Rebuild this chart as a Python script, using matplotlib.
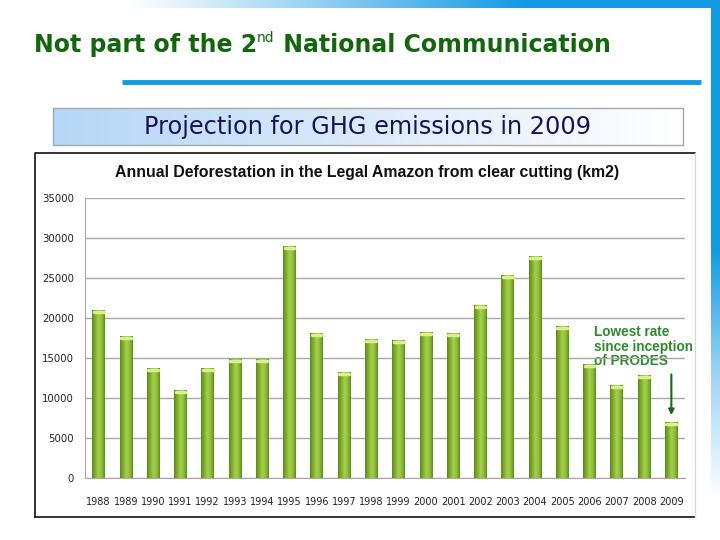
import numpy as np
import matplotlib
matplotlib.use("Agg")
import matplotlib.pyplot as plt
from matplotlib.patches import Rectangle

years = [str(y) for y in range(1988, 2010)]
deforestation = [21050, 17770, 13730, 11030, 13786, 14896, 14896, 29059,
                 18161, 13227, 17383, 17259, 18226, 18165, 21651, 25396,
                 27772, 19014, 14286, 11651, 12911, 7008]
y_ticks = [0, 5000, 10000, 15000, 20000, 25000, 30000, 35000]

W, H = 720, 540
fig = plt.figure(figsize=(7.2, 5.4), dpi=100)

# background decoration (pixel coordinates)
bg = fig.add_axes([0, 0, 1, 1])
bg.set_xlim(0, W)
bg.set_ylim(H, 0)
bg.axis("off")

blue = "#129be3"
# top gradient bar
top_grad = np.linspace(0, 1, 256).reshape(1, -1)
top_cmap = matplotlib.colors.LinearSegmentedColormap.from_list("t", ["#ffffff", "#8fcdf2", blue, blue])
bg.imshow(top_grad, extent=(130, 720, 8, 0), cmap=top_cmap, aspect="auto")
# right vertical bar, fading at the bottom
side_grad = np.linspace(0, 1, 256).reshape(-1, 1)
side_cmap = matplotlib.colors.LinearSegmentedColormap.from_list("s", [blue, blue, blue, "#9fd4f4", "#ffffff"])
bg.imshow(side_grad, extent=(711, 720, 500, 0), cmap=side_cmap, aspect="auto")

# blue rule under title
bg.plot([122, 701], [82, 82], color=blue, lw=3.5, solid_capstyle="butt")

# title with superscript
green = "#14660e"
t1 = bg.text(34, 45, "Not part of the 2", fontsize=17, fontweight="bold",
             color=green, va="center", ha="left")
fig.canvas.draw()
r = fig.canvas.get_renderer()
bb = t1.get_window_extent(r)
t2 = fig.text(bb.x1 / W, (H - 38) / H, "nd", fontsize=10, color=green, va="center", ha="left")
bb2 = t2.get_window_extent(r)
fig.text(bb2.x1 / W, (H - 45) / H, " National Communication", fontsize=17,
         fontweight="bold", color=green, va="center", ha="left")

# subtitle box with gradient
box_cmap = matplotlib.colors.LinearSegmentedColormap.from_list("b", ["#b5d6f6", "#dcebfa", "#ffffff"])
bg.imshow(top_grad, extent=(53, 683, 145, 108), cmap=box_cmap, aspect="auto")
bg.add_patch(Rectangle((53, 108), 630, 37, fill=False, ec="#a8a8a8", lw=1))
bg.text(368, 127, "Projection for GHG emissions in 2009", fontsize=17.3,
        color="#14145a", ha="center", va="center")

# chart frame
bg.plot([35, 35, 695], [517, 153, 153], color="#111111", lw=1.2)
bg.plot([35, 695], [517, 517], color="#111111", lw=1.2)
bg.plot([695, 695], [153, 517], color="#d8d8d8", lw=1)
bg.text(367, 172, "Annual Deforestation in the Legal Amazon from clear cutting (km2)",
        fontsize=11.4, fontweight="bold", color="#111111", ha="center", va="center",
        family="Liberation Sans")

# chart axes
ax = fig.add_axes([85 / W, 1 - 478 / H, 600 / W, 280 / H])
ax.set_xlim(-0.5, len(years) - 0.5)
ax.set_ylim(0, 35000)
ax.set_yticks(y_ticks)
ax.set_yticklabels([str(v) for v in y_ticks], fontsize=7.3, color="#222222")
x = np.arange(len(years))
ax.set_xticks(x)
ax.set_xticklabels(years, fontsize=7, color="#222222")
ax.tick_params(length=0)
ax.tick_params(axis="y", pad=8)
ax.tick_params(axis="x", pad=14)
ax.grid(axis="y", color="#a8a8a8", lw=1)
ax.set_axisbelow(True)
for s in ["top", "right"]:
    ax.spines[s].set_visible(False)
ax.spines["left"].set_color("#a8a8a8")
ax.spines["bottom"].set_color("#a8a8a8")
ax.patch.set_alpha(0)

bars = ax.bar(x, deforestation, width=0.47, color="#8cb83a", zorder=2)
bar_cmap = matplotlib.colors.LinearSegmentedColormap.from_list(
    "g", ["#5a8a18", "#7fae2e", "#a6cf4a", "#8fbf3c", "#5e8c1a"])
for b in bars:
    bx, bw, bh = b.get_x(), b.get_width(), b.get_height()
    im = ax.imshow(top_grad, extent=(bx, bx + bw, 0, bh), cmap=bar_cmap,
                   aspect="auto", zorder=3)
    im.set_clip_path(b)
    ax.plot([bx + bw * 0.12, bx + bw * 0.88], [bh - 250, bh - 250],
            color="#d9f08e", lw=2.5, zorder=4, solid_capstyle="round")
ax.set_xlim(-0.5, len(years) - 0.5)
ax.set_ylim(0, 35000)

# annotation
bg.text(594, 325, "Lowest rate\nsince inception\nof PRODES", fontsize=9.8,
        fontweight="bold", color="#2f8a2f", ha="left", va="top", linespacing=1.05,
        family="Liberation Sans")
ax.annotate("", xy=(x[-1], deforestation[-1] + 500), xytext=(x[-1], 13300),
            arrowprops=dict(arrowstyle="-|>", color="#146b14", lw=1.5, mutation_scale=8))

fig.savefig("out.png", dpi=100)
